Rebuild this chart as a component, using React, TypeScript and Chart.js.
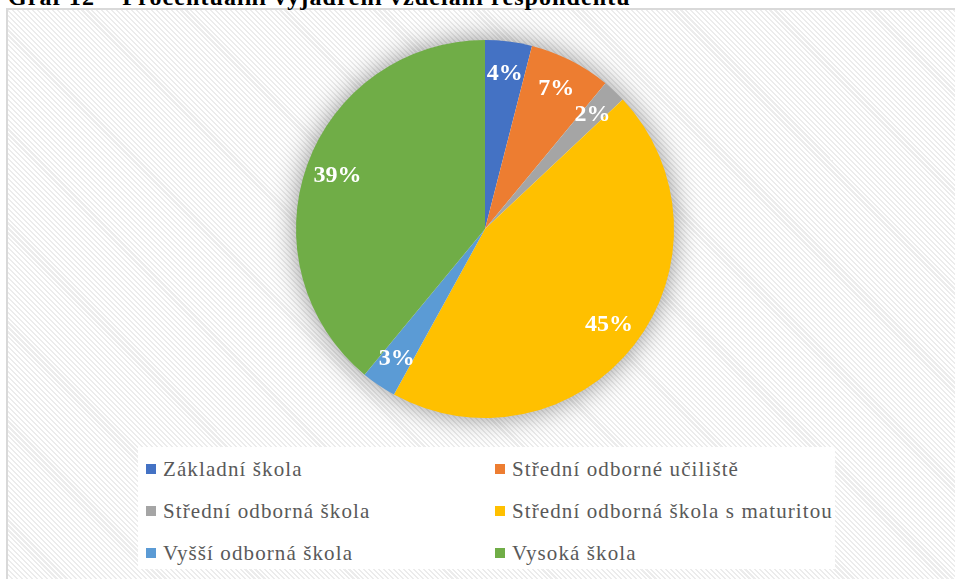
import React, { useEffect, useRef } from "react";
import { Chart, registerables } from "chart.js";

Chart.register(...registerables);

const title = "Graf 12 – Procentuální vyjádření vzdělání respondentů";
const categories = [
  "Základní škola",
  "Střední odborné učiliště",
  "Střední odborná škola",
  "Střední odborná škola s maturitou",
  "Vyšší odborná škola",
  "Vysoká škola",
];
const values = [4, 7, 2, 45, 3, 39];
const colors = ["#4472C4", "#ED7D31", "#A5A5A5", "#FFC000", "#5B9BD5", "#70AD47"];

const shadowPlugin = {
  id: "pieShadow",
  beforeDatasetsDraw(chart: any) {
    const meta = chart.getDatasetMeta(0);
    const arc = meta.data[0];
    if (!arc) return;
    const { x, y, outerRadius } = arc.getProps(["x", "y", "outerRadius"], true);
    const ctx = chart.ctx;
    ctx.save();
    ctx.shadowColor = "rgba(0,0,0,0.45)";
    ctx.shadowBlur = 28;
    ctx.shadowOffsetX = 0;
    ctx.shadowOffsetY = 0;
    ctx.fillStyle = "#ffffff";
    ctx.beginPath();
    ctx.arc(x, y, outerRadius - 1, 0, Math.PI * 2);
    ctx.fill();
    ctx.restore();
  },
};

const labelPlugin = {
  id: "pieLabels",
  afterDatasetsDraw(chart: any) {
    const meta = chart.getDatasetMeta(0);
    const ctx = chart.ctx;
    const data = chart.data.datasets[0].data as number[];
    const total = data.reduce((a, b) => a + b, 0);
    ctx.save();
    ctx.fillStyle = "#ffffff";
    ctx.font = "bold 24px 'Liberation Serif', 'Times New Roman', serif";
    ctx.textAlign = "center";
    ctx.textBaseline = "middle";
    meta.data.forEach((arc: any, i: number) => {
      const { x, y, startAngle, endAngle, outerRadius } = arc.getProps(
        ["x", "y", "startAngle", "endAngle", "outerRadius"],
        true
      );
      const mid = (startAngle + endAngle) / 2;
      const r = outerRadius * 0.83;
      const pct = Math.round((data[i] / total) * 100);
      ctx.fillText(pct + "%", x + Math.cos(mid) * r, y + Math.sin(mid) * r);
    });
    ctx.restore();
  },
};

export default function App() {
  const canvasRef = useRef<HTMLCanvasElement | null>(null);

  useEffect(() => {
    if (!canvasRef.current) return;
    const chart = new Chart(canvasRef.current, {
      type: "pie",
      data: {
        labels: categories,
        datasets: [
          {
            data: values,
            backgroundColor: colors,
            borderWidth: 0,
            hoverOffset: 0,
            offset: 0,
          },
        ],
      },
      options: {
        responsive: false,
        animation: false,
        layout: { padding: { top: 40, bottom: 161, left: 100, right: 85 } },
        plugins: {
          legend: { display: false },
          tooltip: { enabled: false },
          title: { display: false },
        },
      },
      plugins: [shadowPlugin, labelPlugin],
    });
    return () => chart.destroy();
  }, []);

  const hatch =
    "repeating-linear-gradient(45deg, #ececec 0px, #ececec 1.5px, #ffffff 1.5px, #ffffff 3.5px)";

  return (
    <div
      style={{
        position: "absolute",
        left: 0,
        top: 0,
        width: 955,
        height: 579,
        overflow: "hidden",
        background: "#ffffff",
      }}
    >
      <div
        style={{
          position: "absolute",
          left: 6,
          top: 8,
          width: 1000,
          height: 620,
          borderLeft: "2px solid #d9d9d9",
          borderTop: "2px solid #d9d9d9",
          background: hatch,
        }}
      />
      <div
        style={{
          position: "absolute",
          left: 8,
          top: -15,
          fontFamily: "'Liberation Serif', 'Times New Roman', serif",
          fontWeight: "bold",
          fontSize: 24,
          lineHeight: "24px",
          letterSpacing: "1.1px",
          color: "#000000",
          whiteSpace: "nowrap",
        }}
      >
        {title}
      </div>
      <canvas
        ref={canvasRef}
        width={955}
        height={579}
        style={{ position: "absolute", left: 0, top: 0, width: 955, height: 579 }}
      />
      <div
        style={{
          position: "absolute",
          left: 138,
          top: 447,
          width: 697,
          height: 122,
          background: "#ffffff",
          boxSizing: "border-box",
          paddingTop: 1,
          paddingLeft: 8,
          display: "grid",
          gridTemplateColumns: "349px auto",
          gridAutoRows: "42px",
          fontFamily: "'Liberation Serif', 'Times New Roman', serif",
          fontSize: 21,
          letterSpacing: "1.1px",
          color: "#595959",
        }}
      >
        {categories.map((c, i) => (
          <div
            key={c}
            style={{ display: "flex", alignItems: "center", whiteSpace: "nowrap", lineHeight: "42px" }}
          >
            <span
              style={{
                display: "inline-block",
                width: 10,
                height: 10,
                background: colors[i],
                marginRight: 7,
                flex: "none",
              }}
            />
            <span>{c}</span>
          </div>
        ))}
      </div>
    </div>
  );
}
